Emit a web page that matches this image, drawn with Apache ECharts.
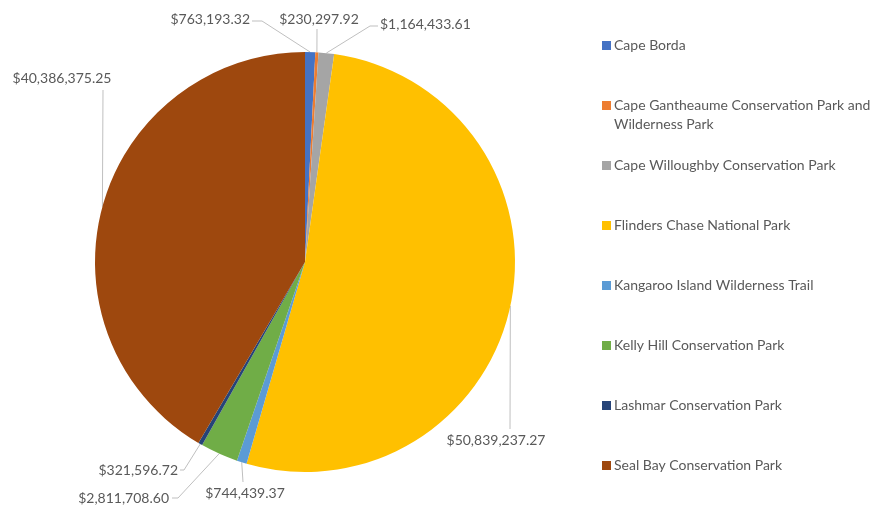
<!DOCTYPE html>
<html><head><meta charset="utf-8">
<script src="https://cdn.jsdelivr.net/npm/echarts@6/dist/echarts.min.js"></script>
<style>html,body{margin:0;padding:0;background:#fff}#c{width:892px;height:511px}</style>
</head><body><div id="c"></div>
<script>
const categories = [
  "Cape Borda",
  "Cape Gantheaume Conservation Park and Wilderness Park",
  "Cape Willoughby Conservation Park",
  "Flinders Chase National Park",
  "Kangaroo Island Wilderness Trail",
  "Kelly Hill Conservation Park",
  "Lashmar Conservation Park",
  "Seal Bay Conservation Park"
];
const values = [763193.32, 230297.92, 1164433.61, 50839237.27, 744439.37, 2811708.60, 321596.72, 40386375.25];
const colors = ["#4472C4", "#ED7D31", "#A5A5A5", "#FFC000", "#5B9BD5", "#70AD47", "#264478", "#9E480E"];

// label layout (positions only), in data order
const labelAnchor = [
  {x: 250, y: 19, align: 'right', line: [[262, 21], [252, 21]]},
  {x: 319, y: 19, align: 'center', line: [[317, 29], [317, 29]]},
  {x: 380, y: 24, align: 'left', line: [[370, 26], [378, 26]]},
  {x: 496, y: 440, align: 'center', line: [[510, 429], [510, 429]]},
  {x: 245, y: 493, align: 'center', line: [[243, 482], [243, 482]]},
  {x: 169, y: 498, align: 'right', line: [[178, 498], [172, 498]]},
  {x: 178, y: 470, align: 'right', line: [[184, 470], [180, 470]]},
  {x: 62, y: 78, align: 'center', line: [[103, 90], [103, 90]]}
];

function fmt(v) {
  return '$' + v.toLocaleString('en-US', {minimumFractionDigits: 2, maximumFractionDigits: 2});
}
function wrap(name, max) {
  const words = name.split(' ');
  const lines = [];
  let cur = '';
  words.forEach(w => {
    const t = cur ? cur + ' ' + w : w;
    if (t.length > max && cur) { lines.push(cur); cur = w; } else cur = t;
  });
  lines.push(cur);
  return lines;
}

const chart = echarts.init(document.getElementById('c'), null, {renderer: 'canvas'});
const FONT = 'Lato';
chart.setOption({
  animation: false,
  color: colors,
  legend: {
    orient: 'vertical',
    left: 597,
    top: 12,
    itemWidth: 9,
    itemHeight: 9,
    itemGap: 3,
    icon: 'rect',
    data: categories,
    textStyle: {fontFamily: FONT, fontSize: 14, color: '#595959', lineHeight: 19, padding: [0, 0, 0, -2]},
    formatter: function (name) {
      const l = wrap(name, 38);
      return '\n' + l[0] + '\n' + (l[1] || '');
    }
  },
  series: [{
    type: 'pie',
    center: [305, 262],
    radius: 210,
    startAngle: 90,
    clockwise: true,
    avoidLabelOverlap: false,
    itemStyle: {borderWidth: 0},
    emphasis: {disabled: true},
    data: categories.map((n, i) => ({name: n, value: values[i]})),
    label: {
      show: true,
      position: 'outside',
      formatter: p => fmt(p.value),
      fontFamily: FONT,
      fontSize: 14,
      color: '#595959'
    },
    labelLine: {show: true, lineStyle: {color: '#BFBFBF', width: 1}, length: 10, length2: 10},
    labelLayout: function (params) {
      const a = labelAnchor[params.dataIndex];
      const start = params.labelLinePoints ? params.labelLinePoints[0] : a.line[0];
      return {
        x: a.x,
        y: a.y,
        align: a.align,
        verticalAlign: 'middle',
        labelLinePoints: [start, a.line[0], a.line[1]]
      };
    }
  }]
});
</script>
</body></html>
